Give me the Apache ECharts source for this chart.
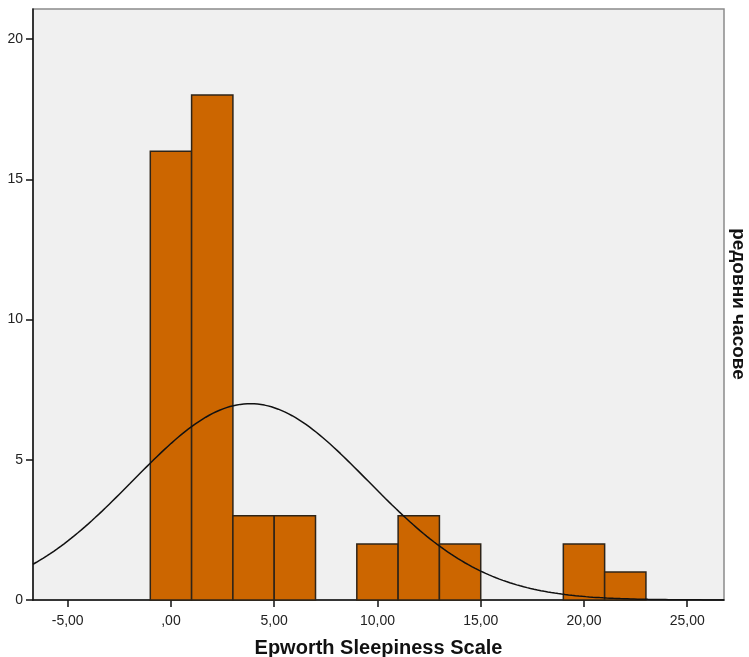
<!DOCTYPE html>
<html><head><meta charset="utf-8">
<script src="https://cdn.jsdelivr.net/npm/echarts@6/dist/echarts.min.js"></script>
<style>html,body{margin:0;padding:0;background:#fff}#c{width:749px;height:657px}</style>
</head><body><div id="c"></div>
<script>
// Histogram data
const binStarts = [-1, 1, 3, 5, 7, 9, 11, 13, 15, 17, 19, 21];
const binWidth = 2;
const counts = [16, 18, 3, 3, 0, 2, 3, 2, 0, 0, 2, 1];
// Normal curve parameters (as fitted in the chart)
const curveMean = 3.84;
const curveSD = 5.7;
const curveN = 50;
// Axis ticks
const xTicks = [-5, 0, 5, 10, 15, 20, 25];
const xTickLabels = ['-5,00', ',00', '5,00', '10,00', '15,00', '20,00', '25,00'];
const yTicks = [0, 5, 10, 15, 20];
const xMin = -6.68, xMax = 26.78, yMax = 21.07;

const curve = [];
for (let i = 0; i <= 400; i++) {
  const x = xMin + (xMax - xMin) * i / 400;
  const z = (x - curveMean) / curveSD;
  curve.push([x, curveN * binWidth / (curveSD * Math.sqrt(2 * Math.PI)) * Math.exp(-0.5 * z * z)]);
}
const barData = binStarts.map((s, i) => [s, s + binWidth, counts[i]]).filter(d => d[2] > 0);

const chart = echarts.init(document.getElementById('c'), null, {renderer: 'canvas'});
const font = 'Liberation Sans, Arial, sans-serif';
chart.setOption({
  animation: false,
  backgroundColor: '#ffffff',
  grid: {left: 33, top: 9, right: 25, bottom: 57, containLabel: false, outerBoundsMode: 'none',
    show: true, backgroundColor: '#f0f0f0', borderColor: '#8a8a8a', borderWidth: 1.5},
  xAxis: {
    type: 'value', min: xMin, max: xMax,
    axisLine: {show: true, onZero: false, lineStyle: {color: '#111', width: 1.5}},
    axisTick: {show: true, length: 7, customValues: xTicks, lineStyle: {color: '#111', width: 1.5}},
    axisLabel: {customValues: xTicks, formatter: v => xTickLabels[xTicks.indexOf(Math.round(v))] ?? '', color: '#222', fontSize: 14, fontFamily: font, margin: 14},
    splitLine: {show: false},
    name: 'Epworth Sleepiness Scale', nameLocation: 'middle', nameGap: 38,
    nameTextStyle: {fontSize: 20, fontWeight: 'bold', color: '#111', fontFamily: font}
  },
  yAxis: {
    type: 'value', min: 0, max: yMax,
    axisLine: {show: true, onZero: false, lineStyle: {color: '#111', width: 1.5}},
    axisTick: {show: true, inside: false, length: 7, customValues: yTicks, lineStyle: {color: '#111', width: 1.5}},
    axisLabel: {customValues: yTicks, color: '#222', fontSize: 14, fontFamily: font, margin: 10},
    splitLine: {show: false}
  },
  graphic: [{
    type: 'text', x: 738, y: 304, rotation: -Math.PI / 2,
    style: {text: 'редовни часове', fill: '#111', font: 'bold 19px Liberation Sans, Arial, sans-serif', align: 'center', verticalAlign: 'middle'}
  }],
  series: [
    {
      type: 'custom',
      data: barData,
      renderItem: function (params, api) {
        const p0 = api.coord([api.value(0), api.value(2)]);
        const p1 = api.coord([api.value(1), 0]);
        return {type: 'rect', shape: {x: p0[0], y: p0[1], width: p1[0] - p0[0], height: p1[1] - p0[1]},
          style: {fill: '#cc6600', stroke: '#2e2418', lineWidth: 1.5}};
      },
      encode: {x: [0, 1], y: 2},
      z: 2
    },
    {
      type: 'line', data: curve, showSymbol: false, symbol: 'none', smooth: false,
      lineStyle: {color: '#111', width: 1.5}, clip: true, z: 3
    }
  ]
});
</script></body></html>
